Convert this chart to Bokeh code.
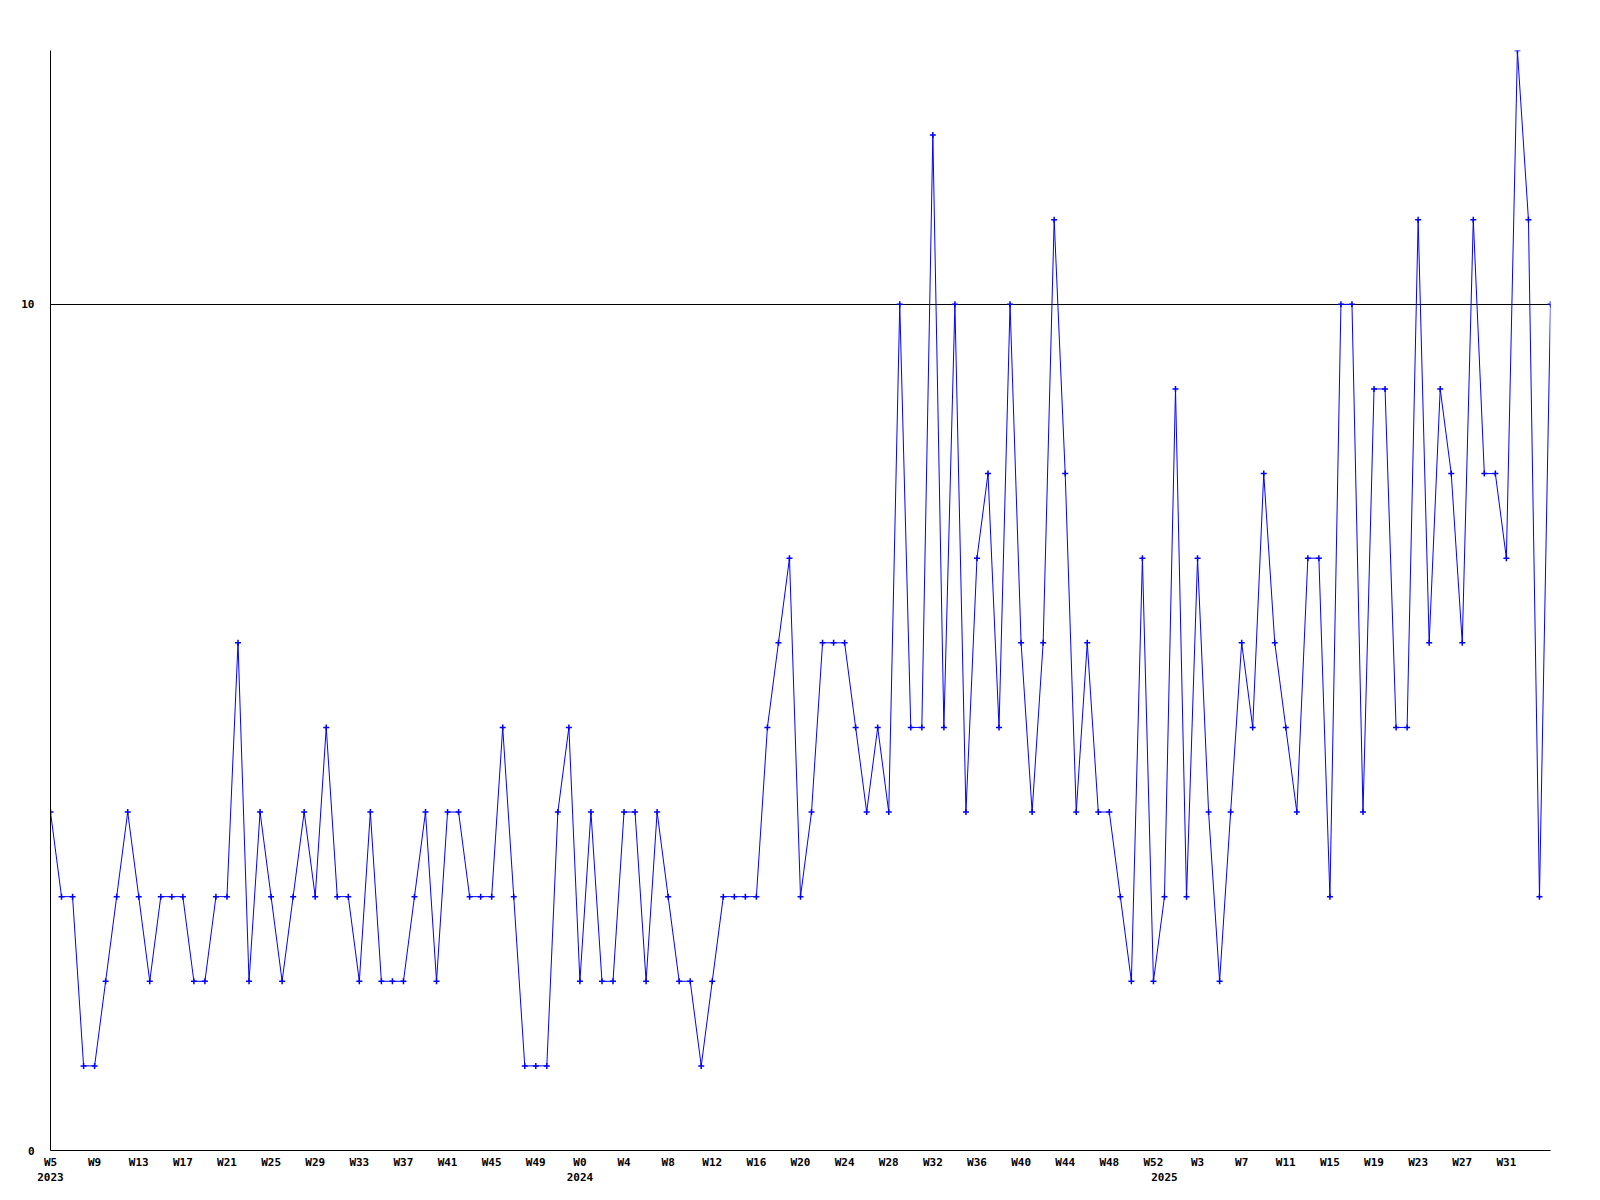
from bokeh.plotting import figure
from bokeh.models import FixedTicker, LinearAxis, Range1d, Grid
from bokeh.embed import file_html
from bokeh.resources import INLINE

# Week numbers shown for each data point (category labels)
weeks_2023 = list(range(5, 53))
weeks_2024 = list(range(0, 53))
weeks_2025 = list(range(0, 36))
years = ["2023", "2024", "2025"]

# Weekly values
values = [
    4, 3, 3, 1, 1, 2, 3, 4, 3, 2,
    3, 3, 3, 2, 2, 3, 3, 6, 2, 4,
    3, 2, 3, 4, 3, 5, 3, 3, 2, 4,
    2, 2, 2, 3, 4, 2, 4, 4, 3, 3,
    3, 5, 3, 1, 1, 1, 4, 5, 2, 4,
    2, 2, 4, 4, 2, 4, 3, 2, 2, 1,
    2, 3, 3, 3, 3, 5, 6, 7, 3, 4,
    6, 6, 6, 5, 4, 5, 4, 10, 5, 5,
    12, 5, 10, 4, 7, 8, 5, 10, 6, 4,
    6, 11, 8, 4, 6, 4, 4, 3, 2, 7,
    2, 3, 9, 3, 7, 4, 2, 4, 6, 5,
    8, 6, 5, 4, 7, 7, 3, 10, 10, 4,
    9, 9, 5, 5, 11, 6, 9, 8, 6, 11,
    8, 8, 7, 13, 11, 3, 10,
]
y_ticks = [0, 10]
y_max = 13

weeks = weeks_2023 + weeks_2024 + weeks_2025
x = list(range(len(values)))
year_first = [0, len(weeks_2023), len(weeks_2023) + len(weeks_2024)]

FONT = "DejaVu Sans Mono"

p = figure(
    frame_width=1500, frame_height=1100,
    output_backend="svg", toolbar_location=None,
    x_range=Range1d(0, len(values) - 1), y_range=Range1d(0, y_max),
    x_axis_location=None, y_axis_location=None,
    min_border_left=50, min_border_top=50, min_border_right=30, min_border_bottom=10,
)
p.outline_line_color = None
for g in p.grid:
    g.visible = False

def style_axis(ax):
    ax.major_tick_out = 0
    ax.major_tick_in = 0
    ax.minor_tick_out = 0
    ax.minor_tick_in = 0
    ax.axis_line_color = "black"
    ax.axis_line_width = 1
    ax.major_label_text_font = FONT
    ax.major_label_text_font_style = "bold"
    ax.major_label_text_font_size = "11px"
    ax.major_label_text_color = "black"

yaxis = LinearAxis(ticker=FixedTicker(ticks=y_ticks))
style_axis(yaxis)
yaxis.major_label_standoff = 16
p.add_layout(yaxis, "left")

week_ticks = x[:-1:4]
xaxis = LinearAxis(ticker=FixedTicker(ticks=week_ticks),
                   major_label_overrides={i: f"W{weeks[i]}" for i in week_ticks})
style_axis(xaxis)
xaxis.major_label_standoff = 5
p.add_layout(xaxis, "below")

yearaxis = LinearAxis(ticker=FixedTicker(ticks=year_first),
                      major_label_overrides={i: y for i, y in zip(year_first, years)})
style_axis(yearaxis)
yearaxis.axis_line_color = None
yearaxis.major_label_standoff = 1
p.add_layout(yearaxis, "below")

grid = Grid(dimension=1, ticker=FixedTicker(ticks=[10]),
            grid_line_color="black", grid_line_width=1)
p.add_layout(grid)

p.line(x, values, line_color="#0000ff", line_width=1)
p.scatter(x, values, marker="cross", size=6, line_color="#0000ff", line_width=1.5)

open("out.html", "w").write(file_html(p, INLINE))
